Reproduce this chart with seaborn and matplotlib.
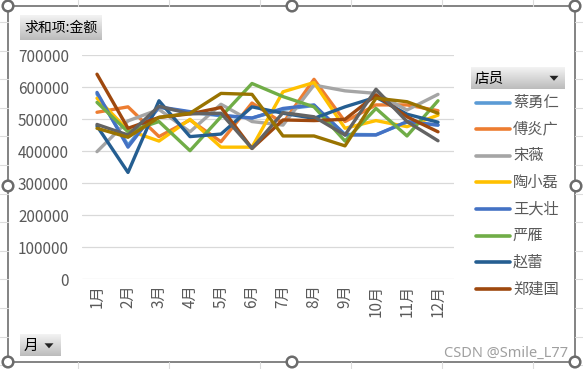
import matplotlib
matplotlib.use("Agg")
import matplotlib.pyplot as plt
import numpy as np
import pandas as pd
import seaborn as sns
from matplotlib.patches import Rectangle, Circle, Polygon
from matplotlib.colors import LinearSegmentedColormap

# ---------------- data ----------------
months = ["1月", "2月", "3月", "4月", "5月", "6月", "7月", "8月", "9月", "10月", "11月", "12月"]
staff = ["蔡勇仁", "傅炎广", "宋薇", "陶小磊", "王大壮", "严雁", "赵蕾", "郑建国", "店员9", "店员10"]
legend_shown = 8  # the field legend only shows the first eight entries

cai_yongren   = [578000, 418000, 536000, 521000, 510000, 503000, 530000, 542000, 452000, 451000, 490000, 481000]
fu_yanguang   = [521000, 538000, 445000, 497000, 429000, 550000, 487000, 624000, 492000, 544000, 544000, 526000]
song_wei      = [398000, 494000, 530000, 460000, 546000, 492000, 481000, 606000, 588000, 580000, 528000, 577000]
tao_xiaolei   = [565000, 465000, 431000, 499000, 412000, 412000, 585000, 614000, 471000, 495000, 476000, 512000]
wang_dazhuang = [583000, 412000, 538000, 523000, 512000, 503000, 533000, 544000, 450000, 450000, 492000, 481000]
yan_yan       = [552000, 460000, 492000, 401000, 507000, 611000, 570000, 538000, 431000, 533000, 447000, 557000]
zhao_lei      = [478000, 333000, 557000, 445000, 453000, 538000, 518000, 502000, 538000, 568000, 515000, 490000]
zheng_jianguo = [640000, 471000, 505000, 516000, 536000, 408000, 497000, 495000, 499000, 575000, 507000, 460000]
staff_9       = [483000, 450000, 540000, 516000, 518000, 408000, 520000, 507000, 450000, 593000, 492000, 432000]
staff_10      = [471000, 443000, 505000, 518000, 580000, 577000, 447000, 447000, 416000, 565000, 554000, 518000]

series = [cai_yongren, fu_yanguang, song_wei, tao_xiaolei, wang_dazhuang,
          yan_yan, zhao_lei, zheng_jianguo, staff_9, staff_10]
colors = ["#5B9BD5", "#ED7D31", "#A5A5A5", "#FFC000", "#4472C4",
          "#70AD47", "#255E91", "#9E480E", "#636363", "#997300"]
yticks = [0, 100000, 200000, 300000, 400000, 500000, 600000, 700000]

df = pd.DataFrame({
    "月": months * len(staff),
    "金额": [v for s in series for v in s],
    "店员": [n for n in staff for _ in months],
})

# ---------------- figure ----------------
sns.set_theme(style="white")
plt.rcParams["font.family"] = ["Noto Sans CJK SC", "DejaVu Sans"]

W, H = 583, 369
fig = plt.figure(figsize=(W / 100, H / 100), dpi=100)
fig.patch.set_facecolor("white")

def fbox(x0, y0, x1, y1):
    return [x0 / W, 1 - y1 / H, (x1 - x0) / W, (y1 - y0) / H]

ax = fig.add_axes(fbox(81.5, 55, 453.5, 279))
sns.lineplot(data=df, x="月", y="金额", hue="店员", hue_order=staff,
             palette=colors, linewidth=2.4, sort=False, legend=False,
             estimator=None, ax=ax)
for ln in ax.lines:
    ln.set_solid_joinstyle("round")
    ln.set_solid_capstyle("round")

ax.set_xlim(-0.5, len(months) - 0.5)
ax.set_ylim(0, 700000)
ax.set_yticks(yticks)
ax.set_yticklabels([str(v) for v in yticks])
ax.set_xticks(range(len(months)))
ax.set_xticklabels(months, rotation=90)
ax.set_xlabel("")
ax.set_ylabel("")
for sp in ax.spines.values():
    sp.set_visible(False)
ax.grid(axis="y", color="#d9d9d9", linewidth=0.9)
ax.grid(axis="x", visible=False)
ax.set_axisbelow(True)
ax.tick_params(axis="y", length=0, pad=9, labelsize=11, labelcolor="#595959")
ax.tick_params(axis="x", length=0, pad=4, labelsize=11, labelcolor="#595959")
ax.set_facecolor("none")

# ---------------- overlay (frame, legend, buttons) ----------------
ov = fig.add_axes([0, 0, 1, 1], zorder=5)
ov.set_xlim(0, W)
ov.set_ylim(H, 0)
ov.axis("off")
ov.patch.set_alpha(0)

# faint worksheet cell grid outside the chart frame
for x in [78, 169, 260, 351, 442, 533]:
    ov.plot([x, x], [0, 6], color="#dcdcdc", lw=0.8)
    ov.plot([x, x], [362, H], color="#dcdcdc", lw=0.8)
for y in np.arange(22, H, 28.6):
    ov.plot([0, 8], [y, y], color="#dcdcdc", lw=0.8)
    ov.plot([575, W], [y, y], color="#dcdcdc", lw=0.8)

# chart frame
ov.add_patch(Rectangle((8, 6), 567, 356, fill=False, ec="#7a7a7a", lw=1.3))

# legend (first eight entries)
leg_y0, leg_dy = 102.5, 26.6
for i in range(legend_shown):
    y = leg_y0 + i * leg_dy
    ov.plot([476, 510], [y, y], color=colors[i], lw=2.6, solid_capstyle="round")
    ov.text(513, y, staff[i], fontsize=11, color="#595959", va="center", ha="left")

# field buttons with gradient
grad_cmap = LinearSegmentedColormap.from_list("btn", ["#f3f3f3", "#bcbcbc"])
grad = np.linspace(0, 1, 50).reshape(-1, 1)

def button(x0, y0, x1, y1, text, arrow_x=None, fs=10):
    ov.imshow(grad, cmap=grad_cmap, extent=[x0, x1, y1, y0], aspect="auto",
              interpolation="bilinear", zorder=2)
    ov.text(x0 + 4, (y0 + y1) / 2 + 0.5, text, fontsize=fs, color="black",
            va="center", ha="left", zorder=3)
    if arrow_x is not None:
        cy = (y0 + y1) / 2
        ov.add_patch(Polygon([[arrow_x - 4.5, cy - 2.2], [arrow_x + 4.5, cy - 2.2],
                              [arrow_x, cy + 2.8]], closed=True, fc="#222222",
                             ec="none", zorder=3))

button(20, 15.5, 101.5, 40, "求和项:金额", fs=10)
button(471, 67, 565, 89, "店员", arrow_x=554, fs=10.5)
button(20, 334.5, 60.5, 356.5, "月", arrow_x=49, fs=10.5)

ov.set_xlim(0, W)
ov.set_ylim(H, 0)

# selection handles
for (cx, cy) in [(8, 6), (292, 6), (575, 6), (8, 186), (576, 186),
                 (8, 362), (292, 362), (575, 362)]:
    ov.add_patch(Circle((cx, cy), 5.3, fc="white", ec="#6b6b6b", lw=1.8, zorder=6))

# watermark
ov.text(568, 353, "CSDN @Smile_L77", fontsize=10.5, color="#a0a0a0",
        ha="right", va="center", family=["Noto Sans", "DejaVu Sans"])

fig.savefig("out.png", dpi=100, facecolor="white")
